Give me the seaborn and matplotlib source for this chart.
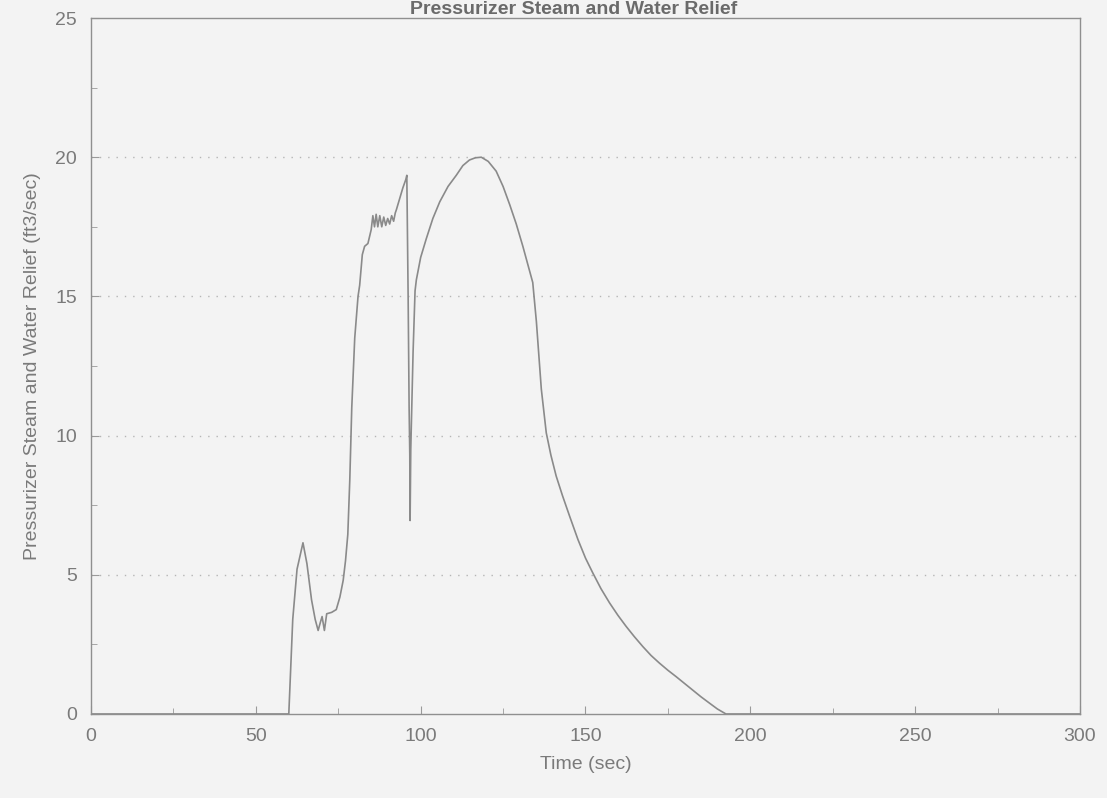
import numpy as np
import pandas as pd
import matplotlib
matplotlib.use('Agg')
import matplotlib.pyplot as plt
import seaborn as sns
from matplotlib.ticker import MultipleLocator

# Datos: tiempo (s) y caudal de alivio (ft3/s)
tiempo = [0, 60.0, 61.2, 62.5, 64.3, 65.5, 66.9, 68.0, 68.9, 69.6, 70.1, 70.8, 71.5,
          73.0, 74.4, 75.5, 76.5, 77.2, 77.9, 78.5, 79.1, 80.0, 81.0, 81.5, 82.3,
          83.0, 84.0, 85.0, 85.5, 86.0, 86.5, 87.0, 87.6, 88.2, 88.8, 89.4, 90.0,
          90.6, 91.2, 91.8, 92.3, 92.6, 93.6, 94.6, 95.5, 95.8, 96.2, 96.5, 96.7,
          96.8, 97.0, 97.2, 97.7, 98.3, 98.7, 100.0, 101.7, 103.7, 105.8, 108.3,
          110.8, 112.8, 114.8, 116.6, 118.4, 120.5, 122.9, 125.0, 127.0, 129.0,
          131.0, 134.0, 135.1, 136.6, 138.1, 139.5, 141.1, 143.0, 145.2, 147.7,
          150.0, 152.2, 154.7, 157.3, 159.8, 162.3, 164.8, 167.4, 169.9, 172.4,
          175.0, 177.5, 180.0, 182.5, 185.0, 187.6, 190.0, 192.6, 300]
caudal = [0, 0, 3.4, 5.2, 6.15, 5.4, 4.1, 3.4, 3.0, 3.3, 3.5, 3.0, 3.6,
          3.65, 3.75, 4.2, 4.8, 5.5, 6.45, 8.4, 11.0, 13.5, 15.0, 15.4, 16.5,
          16.8, 16.9, 17.4, 17.9, 17.5, 17.95, 17.5, 17.9, 17.5, 17.85, 17.55, 17.8,
          17.6, 17.9, 17.7, 18.0, 18.1, 18.5, 18.9, 19.2, 19.35, 15.0, 11.0, 9.3,
          6.95, 9.5, 10.5, 13.0, 15.2, 15.6, 16.4, 17.07, 17.8, 18.4, 18.95,
          19.35, 19.7, 19.9, 19.98, 20.0, 19.85, 19.5, 18.95, 18.3, 17.6,
          16.8, 15.5, 14.1, 11.67, 10.1, 9.3, 8.55, 7.85, 7.1, 6.27,
          5.6, 5.07, 4.5, 3.99, 3.55, 3.15, 2.78, 2.42, 2.1, 1.83,
          1.57, 1.34, 1.1, 0.86, 0.62, 0.39, 0.18, 0.0, 0.0]

datos = pd.DataFrame({'Tiempo': tiempo, 'Caudal': caudal})

sns.set_style('ticks')
plt.rcParams['font.family'] = ['Liberation Sans', 'DejaVu Sans']

gris = '#7a7a7a'
fig = plt.figure(figsize=(11.07, 7.98), dpi=100, facecolor='#f3f3f3')
ax = fig.add_axes([0.0822, 0.1053, 0.8934, 0.8721])
ax.set_facecolor('#f3f3f3')

sns.lineplot(x='Tiempo', y='Caudal', data=datos, estimator=None, sort=False,
             color='#8a8a8a', linewidth=1.2, ax=ax)

ax.set_xlim(0, 300)
ax.set_ylim(0, 25)
ax.xaxis.set_major_locator(MultipleLocator(50))
ax.xaxis.set_minor_locator(MultipleLocator(25))
ax.yaxis.set_major_locator(MultipleLocator(5))
ax.yaxis.set_minor_locator(MultipleLocator(2.5))
ax.tick_params(which='both', direction='in', colors='#9a9a9a', labelcolor=gris,
               labelsize=14, top=False, right=False)
ax.tick_params(which='major', length=6, pad=10)
ax.tick_params(which='minor', length=4)

# Lineas de rejilla horizontales punteadas
for v in [5, 10, 15, 20]:
    ax.axhline(v, color='#b5b5b5', linestyle=(0, (1, 5)), linewidth=1.0, zorder=0)

for lado in ax.spines.values():
    lado.set_color('#8f8f8f')
    lado.set_linewidth(1.0)

ax.set_xlabel('Time (sec)', fontsize=14, color=gris, labelpad=8)
ax.set_ylabel('Pressurizer Steam and Water Relief (ft3/sec)', fontsize=14, color=gris, labelpad=10)

fig.text(0.518, 0.999, 'Pressurizer Steam and Water Relief', ha='center', va='top',
         fontsize=14, fontweight='bold', color='#6a6a6a')

fig.savefig('out.png', dpi=100, facecolor=fig.get_facecolor())
